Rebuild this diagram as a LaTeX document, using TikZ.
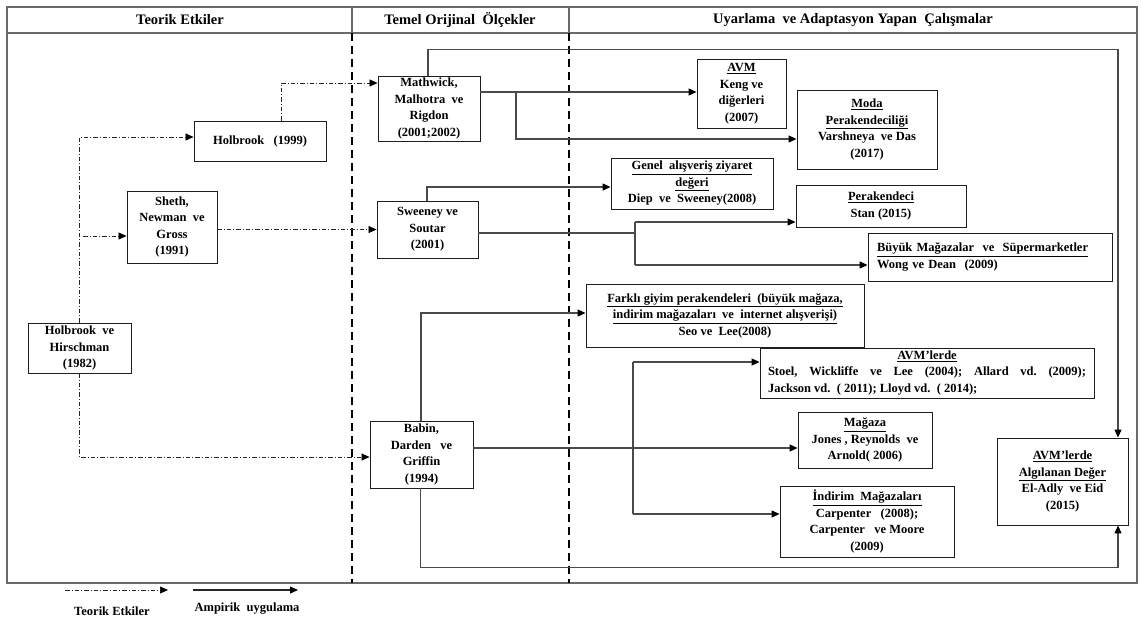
\documentclass[tikz,border=0pt]{standalone}
\usepackage{fontspec}
\setmainfont{Liberation Serif}
\usetikzlibrary{arrows.meta,calc}

\definecolor{lineg}{HTML}{4A4A4A}
\definecolor{frameg}{HTML}{6A6A6A}
\definecolor{boxg}{HTML}{1E1E1E}

\tikzset{
  box/.style={draw=boxg, line width=0.9pt, fill=white, inner sep=0pt, align=center,
    font=\fontsize{12.5}{16.5}\selectfont\bfseries\frenchspacing},
  hdr/.style={font=\fontsize{14.5}{16}\selectfont\bfseries, inner sep=0pt},
  lgd/.style={font=\fontsize{12.5}{15}\selectfont\bfseries, inner sep=0pt},
  tip/.style={-{Triangle[length=8pt,width=7pt,color=black]}},
  theo/.style={draw=black!85, line width=0.7pt, dash pattern=on 4.5pt off 2pt on 1pt off 2pt, tip},
  emp/.style={draw=lineg, line width=1.1pt},
  empa/.style={emp, tip},
  divider/.style={draw=black, line width=1.8pt, dash pattern=on 8pt off 5pt},
}

\begin{document}
\begin{tikzpicture}[x=1pt,y=-1pt]
\useasboundingbox (0,0) rectangle (1141,624);

% frame, header row and column dividers
\draw[frameg, line width=1.4pt] (7,7) rectangle (1137,583);
\draw[frameg, line width=1.2pt] (7,33) -- (1137,33);
\draw[frameg, line width=1.2pt] (352,7) -- (352,33);
\draw[frameg, line width=1.2pt] (569,7) -- (569,33);
\draw[divider] (352,33) -- (352,583);
\draw[divider] (569,33) -- (569,583);

\node[hdr] (h1) at (180,20) {Teorik Etkiler};
\node[hdr] (h2) at (460,20) {Temel Orijinal\ \ Ölçekler};
\node[hdr] (h3) at (853,20) {Uyarlama\ \ ve Adaptasyon Yapan\ \ Çalışmalar};

% theoretical sources
\node[box, minimum width=103pt, minimum height=50pt] (HH) at (79.5,348) {Holbrook\ \ ve\\Hirschman\\(1982)};
\node[box, minimum width=90pt, minimum height=72pt] (Sheth) at (172,227) {Sheth,\\Newman\ \ ve\\Gross\\(1991)};
\node[box, minimum width=132pt, minimum height=40pt] (Hol) at (260,141) {Holbrook\ \ \ (1999)};

% original scales
\node[box, minimum width=102pt, minimum height=65pt] (Math) at (429,108.5) {Mathwick,\\Malhotra\ \ ve\\Rigdon\\(2001;2002)};
\node[box, minimum width=101pt, minimum height=57pt] (Swe) at (427.5,229.5) {Sweeney ve\\Soutar\\(2001)};
\node[box, minimum width=103pt, minimum height=67pt] (Babin) at (421.5,454.5) {Babin,\\Darden\ \ \ ve\\Griffin\\(1994)};

% adaptation studies
\node[box, minimum width=89pt, minimum height=69pt] (AVM) at (741.5,93.5) {\underline{AVM}\\Keng ve\\diğerleri\\(2007)};
\node[box, minimum width=140pt, minimum height=79pt] (Moda) at (867,129.5) {\underline{Moda}\\\underline{Perakendeciliği}\\Varshneya\ \ ve Das\\(2017)};
\node[box, minimum width=162pt, minimum height=51pt] (Genel) at (692,183.5) {\underline{Genel\ \ alışveriş ziyaret}\\\underline{değeri}\\Diep\ \ ve\ \ Sweeney(2008)};
\node[box, minimum width=170pt, minimum height=42pt] (Stan) at (881,206) {\underline{Perakendeci}\\Stan (2015)};
\node[box, minimum width=244pt, minimum height=48pt, text width=226pt, align=left] (Wong) at (990,257) {\underline{Büyük Mağazalar\ \ ve\ \ Süpermarketler}\\Wong ve Dean\ \ (2009)};
\node[box, minimum width=278pt, minimum height=63pt] (Farkli) at (725,315.5) {\underline{Farklı giyim perakendeleri\ \ (büyük mağaza,}\\\underline{indirim mağazaları\ \ ve\ \ internet alışverişi)}\\Seo ve\ \ Lee(2008)};
\node[box, minimum width=334pt, minimum height=50pt, text width=318pt, align=justify] (AVMler) at (927,373) {\hspace*{\fill}\underline{AVM’lerde}\hspace*{\fill}\\Stoel, Wickliffe ve Lee (2004); Allard vd. (2009);\linebreak Jackson vd.\ \ ( 2011); Lloyd vd.\ \ ( 2014);};
\node[box, minimum width=134pt, minimum height=56pt] (Magaza) at (865,440) {\underline{Mağaza}\\Jones , Reynolds\ \ ve\\Arnold( 2006)};
\node[box, minimum width=174pt, minimum height=71pt] (Indirim) at (867,521.5) {\underline{İndirim\ \ Mağazaları}\\Carpenter\ \ \ (2008);\\Carpenter\ \ \ ve Moore\\(2009)};
\node[box, minimum width=131pt, minimum height=87pt] (ElAdly) at (1062.5,481.5) {\underline{AVM’lerde}\\\underline{Algılanan Değer}\\El-Adly\ \ ve Eid\\(2015)};

% theoretical influences (dash-dot)
\coordinate (tb) at (83,236);
\draw[theo] (HH.north) |- ([yshift=4pt]Hol.west);
\draw[theo] (tb) -- (tb -| Sheth.west);
\draw[theo] (HH.south) |- ([yshift=-2.5pt]Babin.west);
\draw[theo] ([xshift=21pt]Hol.north) |- ([yshift=25.5pt]Math.west);
\draw[theo] (Sheth.east |- Swe.west) -- (Swe.west);

% empirical applications (solid)
\draw[empa] ([xshift=-1pt]Math.north) -- ++(0,-26) -| ([xshift=55.5pt]ElAdly.north);
\coordinate (m1) at ([yshift=16.5pt]Math.east);
\coordinate (m2) at (516,92);
\draw[empa] (m1) -- (m1 -| AVM.west);
\draw[empa] (m2) |- ([yshift=-9.5pt]Moda.west);

\draw[empa] ([xshift=-0.5pt]Swe.north) |- ([yshift=-3.5pt]Genel.west);
\coordinate (s1) at ([yshift=-3.5pt]Swe.east);
\coordinate (sb1) at (635,222);
\coordinate (sb2) at (635,265);
\draw[emp] (s1) -- (s1 -| sb1);
\draw[emp] (sb1) -- (sb2);
\draw[empa] (sb1) -- (sb1 -| Stan.west);
\draw[empa] (sb2) -- (sb2 -| Wong.west);

\draw[empa] ([xshift=-0.5pt]Babin.north) |- ([yshift=2.5pt]Farkli.west);
\coordinate (b1) at ([yshift=6.5pt]Babin.east);
\draw[empa] (b1) -- (b1 -| Magaza.west);
\coordinate (bb1) at (633,362);
\coordinate (bb2) at (633,514);
\draw[emp] (bb1) -- (bb2);
\draw[empa] (bb1) -- (bb1 -| AVMler.west);
\draw[empa] (bb2) -- (bb2 -| Indirim.west);
\draw[empa] ([xshift=-1pt]Babin.south) -- ++(0,79) -| ([xshift=55.5pt]ElAdly.south);

% legend
\coordinate (l1) at (65,590);
\coordinate (l2) at (168,590);
\coordinate (l3) at (193,590);
\coordinate (l4) at (298,590);
\draw[theo] (l1) -- (l2);
\draw[empa, draw=black!85] (l3) -- (l4);
\node[lgd] (lt1) at (112,611) {Teorik Etkiler};
\node[lgd] (lt2) at (247,609) {Ampirik\ \ uygulama};
\end{tikzpicture}
\end{document}
